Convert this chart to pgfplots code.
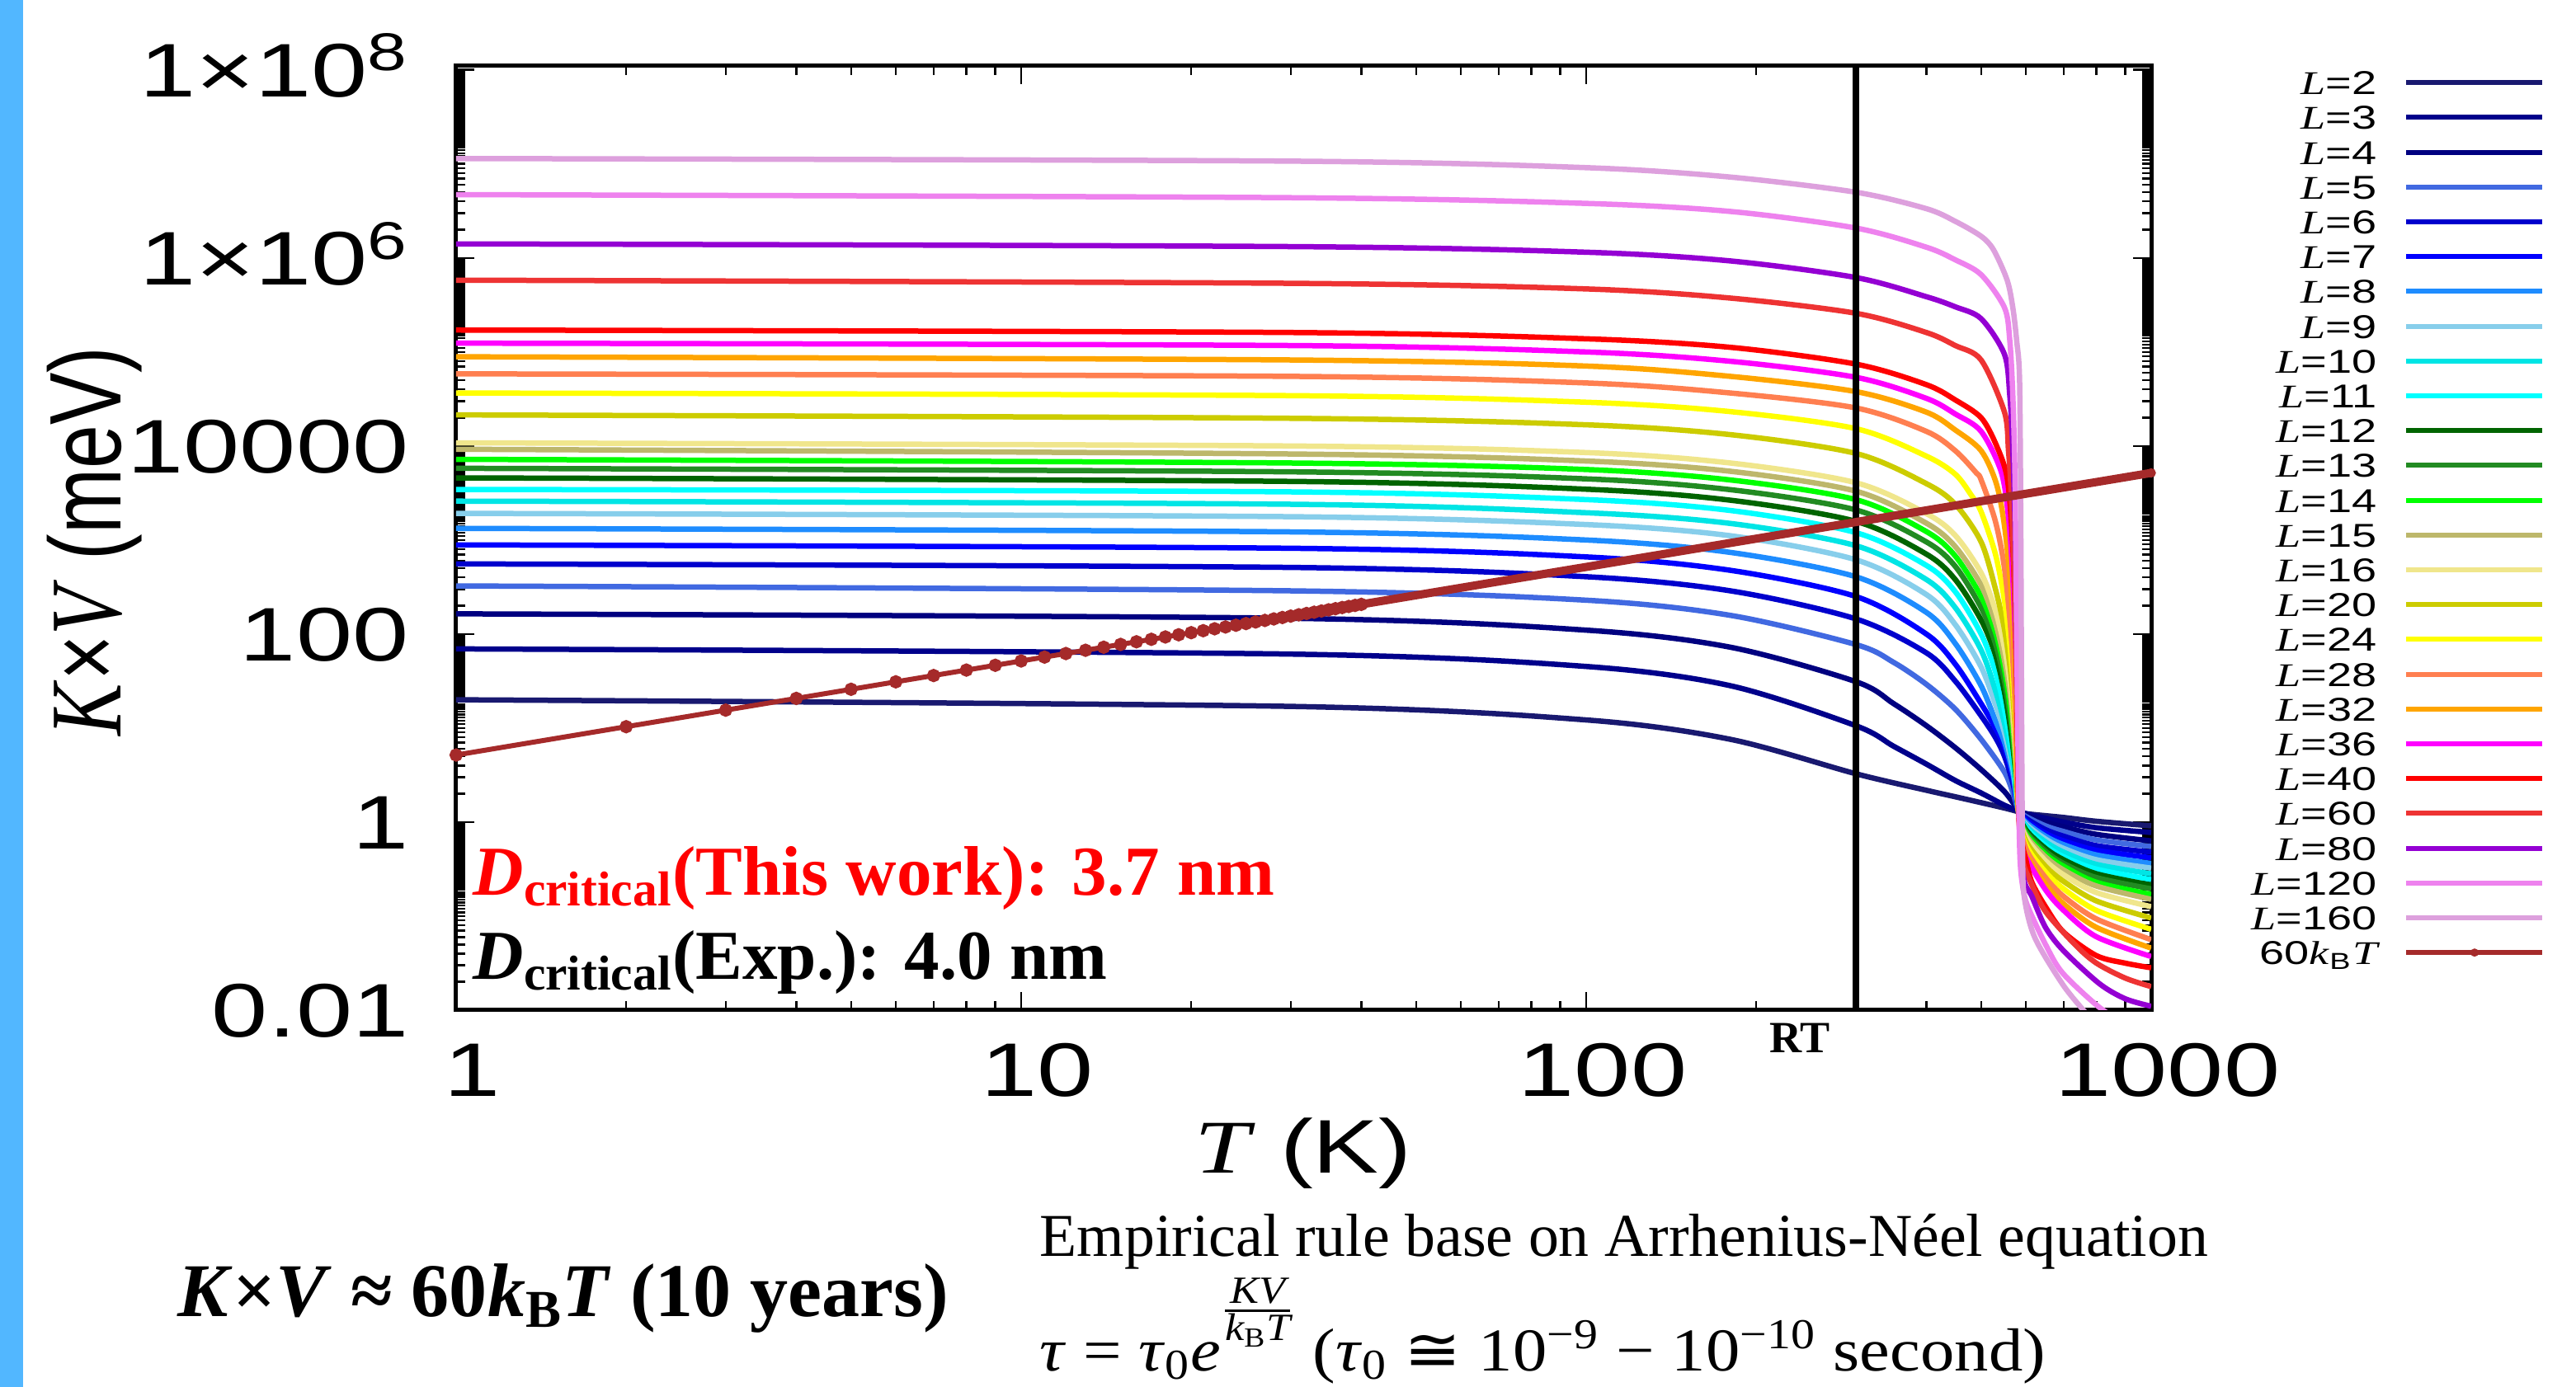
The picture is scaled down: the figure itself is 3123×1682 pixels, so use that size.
\documentclass[border=0pt]{standalone}
\usepackage{fontspec}
\setmainfont{Liberation Serif}
\setsansfont{Liberation Sans}
\newfontfamily\symfont{DejaVu Sans}
\usepackage{amsmath}
\usepackage{graphicx}
\usepackage{pgfplots}
\pgfplotsset{compat=1.18}

\definecolor{barblue}{RGB}{82,183,255}
\definecolor{c2}{HTML}{191970}
\definecolor{c3}{HTML}{00008B}
\definecolor{c4}{HTML}{000080}
\definecolor{c5}{HTML}{4169E1}
\definecolor{c6}{HTML}{0000CD}
\definecolor{c7}{HTML}{0000FF}
\definecolor{c8}{HTML}{1E8CFF}
\definecolor{c9}{HTML}{87CEEB}
\definecolor{c10}{HTML}{00E5E5}
\definecolor{c11}{HTML}{00FFFF}
\definecolor{c12}{HTML}{006400}
\definecolor{c13}{HTML}{228B22}
\definecolor{c14}{HTML}{00FF00}
\definecolor{c15}{HTML}{BDB76B}
\definecolor{c16}{HTML}{F0E68C}
\definecolor{c20}{HTML}{CCCC00}
\definecolor{c24}{HTML}{FFFF00}
\definecolor{c28}{HTML}{FF7F50}
\definecolor{c32}{HTML}{FFA500}
\definecolor{c36}{HTML}{FF00FF}
\definecolor{c40}{HTML}{FF0000}
\definecolor{c60}{HTML}{EE3333}
\definecolor{c80}{HTML}{9400D3}
\definecolor{c120}{HTML}{EE82EE}
\definecolor{c160}{HTML}{DDA0DD}
\definecolor{kbt}{HTML}{A52A2A}

% gnuplot text is stretched sideways in the original
\newcommand{\TL}[1]{\scalebox{1.33}[1]{\sffamily\fontsize{26.2}{28}\selectfont #1}}
\newcommand{\LG}[1]{\scalebox{1.35}[1]{\fontsize{11.4}{12}\selectfont #1}}
\tikzset{cv/.style={line width=0.65mm, line join=round, smooth, tension=0.5}}

% minor y ticks: n*10^k, n=2..99, every second decade
\def\yminor{}
\foreach \e in {-2,0,2,4,6}{\foreach \n in {2,...,99}{\xdef\yminor{\yminor\n e\e,}}}

\begin{document}
\begin{tikzpicture}[x=0.1mm, y=-0.1mm]
\fill[white] (0,0) rectangle (3123,1682);
\path[use as bounding box] (0,0) rectangle (3123,1682);
\fill[barblue] (0,0) rectangle (28,1682);

\begin{axis}[
  at={(55.3mm,-122.5mm)}, anchor=south west,
  scale only axis, width=205.5mm, height=114.5mm,
  xmode=log, ymode=log,
  xmin=1, xmax=1000, ymin=0.01, ymax=1.1e8,
  axis line style={line width=0.5mm},
  tick align=inside, tick pos=both,
  major tick length=2.2mm, minor tick length=1.1mm,
  every tick/.style={black, line width=0.25mm},
  xtick={1,10,100,1000},
  xticklabels={\TL{1},\TL{10},\TL{100},\TL{1000}},
  minor xtick={2,3,4,5,6,7,8,9,20,30,40,50,60,70,80,90,200,300,400,500,600,700,800,900},
  ytick={0.01,1,100,10000,1e6,1e8},
  yticklabels={\TL{0.01},\TL{1},\TL{100},\TL{10000},\TL{1×10\textsuperscript{6}},\TL{1×10\textsuperscript{8}}},
  minor ytick/.expanded={\yminor 1e8},
  xticklabel style={anchor=base, inner sep=0pt, yshift=-10.5mm, xshift=2mm},
  yticklabel style={anchor=base east, inner sep=0pt, xshift=-5.7mm, yshift=-3.3mm},
]
% L=2
\addplot[cv, c2] coordinates {(1,20.0)(30,17.0)(100,12.2)(180,7.59)(300,3.27)(400,2.18)(450,1.86)(500,1.61)(550,1.41)(582,1.29)(600,1.23)(650,1.17)(700,1.12)(800,1.02)(1000,0.912)};
% L=3
\addplot[cv, c3] coordinates {(1,69.5)(30,61.2)(100,45.2)(180,28.2)(300,10.6)(350,6.41)(400,4.14)(450,2.77)(500,2.04)(550,1.51)(582,1.32)(600,1.23)(650,1.10)(700,1.00)(800,0.871)(1000,0.776)};
% L=4
\addplot[cv, c4] coordinates {(1,164)(30,147)(100,110)(180,72.4)(300,31.2)(350,18.2)(400,10.6)(450,6.19)(500,3.62)(550,2.11)(582,1.35)(600,1.20)(650,1.00)(700,0.891)(800,0.741)(1000,0.631)};
% L=5
\addplot[cv, c5] coordinates {(1,325)(30,288)(100,229)(180,158)(300,77.4)(350,50.0)(400,29.2)(450,15.9)(500,7.59)(550,3.40)(570,2.00)(582,1.35)(600,1.15)(650,0.912)(700,0.794)(800,0.646)(1000,0.550)};
% L=6
\addplot[cv, c6] coordinates {(1,557)(30,511)(100,407)(180,288)(300,145)(400,63.1)(450,31.6)(500,13.5)(530,7.94)(550,5.01)(570,2.51)(582,1.35)(600,1.10)(650,0.832)(700,0.708)(800,0.562)(1000,0.479)};
% L=7
\addplot[cv, c7] coordinates {(1,887)(30,817)(100,661)(180,476)(300,251)(400,100)(450,47.9)(500,18.2)(530,10.0)(550,6.31)(570,2.82)(582,1.35)(600,1.05)(650,0.759)(700,0.631)(800,0.501)(1000,0.417)};
% L=8
\addplot[cv, c8] coordinates {(1,1330)(30,1220)(100,1000)(180,738)(300,407)(400,170)(450,79.4)(500,28.2)(530,12.0)(550,7.08)(570,3.16)(582,1.35)(600,1.00)(650,0.708)(700,0.575)(800,0.447)(1000,0.363)};
% L=9
\addplot[cv, c9] coordinates {(1,1920)(30,1770)(100,1460)(180,1110)(300,617)(400,263)(450,126)(500,44.7)(530,17.8)(550,8.91)(570,3.55)(582,1.35)(600,0.955)(650,0.661)(700,0.525)(800,0.398)(1000,0.324)};
% L=10
\addplot[cv, c10] coordinates {(1,2590)(30,2400)(100,1950)(180,1500)(300,871)(400,380)(450,191)(500,67.6)(530,25.1)(550,11.2)(570,3.98)(582,1.35)(600,0.912)(650,0.617)(700,0.479)(800,0.355)(1000,0.282)};
% L=11
\addplot[cv, c11] coordinates {(1,3450)(30,3250)(100,2690)(180,2060)(300,1200)(400,537)(450,282)(500,100)(530,39.8)(550,15.8)(570,4.79)(582,1.35)(600,0.871)(650,0.562)(700,0.427)(800,0.316)(1000,0.245)};
% L=12
\addplot[cv, c12] coordinates {(1,4580)(30,4200)(100,3470)(180,2650)(300,1580)(400,708)(450,380)(500,141)(530,60.3)(550,24.0)(565,8.91)(575,3.55)(582,1.35)(600,0.832)(650,0.525)(700,0.398)(800,0.282)(1000,0.214)};
% L=13
\addplot[cv, c13] coordinates {(1,5790)(30,5310)(100,4470)(180,3430)(300,2090)(400,955)(450,525)(500,191)(530,79.4)(550,31.6)(565,11.2)(575,3.98)(582,1.35)(600,0.794)(650,0.490)(700,0.363)(800,0.257)(1000,0.195)};
% L=14
\addplot[cv, c14] coordinates {(1,7210)(30,6590)(100,5620)(180,4350)(300,2690)(400,1230)(450,676)(500,251)(530,105)(550,41.7)(565,14.1)(575,4.47)(582,1.35)(600,0.759)(650,0.457)(700,0.339)(800,0.229)(1000,0.170)};
% L=15
\addplot[cv, c15] coordinates {(1,9230)(30,8220)(100,6920)(180,5380)(300,3310)(400,1510)(450,851)(500,331)(530,132)(550,52.5)(565,19.1)(575,5.25)(582,1.35)(600,0.724)(650,0.427)(700,0.309)(800,0.209)(1000,0.151)};
% L=16
\addplot[cv, c16] coordinates {(1,10800)(30,10000)(100,8510)(180,6590)(300,4070)(400,1910)(450,1120)(500,447)(530,178)(550,70.8)(565,25.1)(575,6.31)(582,1.35)(600,0.692)(650,0.389)(700,0.275)(800,0.178)(1000,0.126)};
% L=20
\addplot[cv, c20] coordinates {(1,21400)(30,19700)(100,16800)(180,13200)(300,8340)(400,3980)(450,2400)(500,955)(530,302)(550,112)(565,35.5)(575,8.91)(582,1.35)(600,0.631)(650,0.339)(700,0.234)(800,0.145)(1000,0.0955)};
% L=24
\addplot[cv, c24] coordinates {(1,36600)(30,34300)(100,29200)(180,23200)(300,15300)(400,7800)(450,5010)(480,3020)(500,2000)(530,708)(550,224)(565,56.2)(575,11.2)(582,1.35)(600,0.575)(650,0.295)(700,0.195)(800,0.115)(1000,0.0724)};
% L=28
\addplot[cv, c28] coordinates {(1,58500)(30,55000)(100,46800)(180,36600)(300,25400)(400,14300)(450,8910)(490,5200)(500,4370)(530,1580)(550,501)(565,100)(575,15.8)(582,1.35)(600,0.525)(650,0.257)(700,0.162)(800,0.0933)(1000,0.0562)};
% L=32
\addplot[cv, c32] coordinates {(1,88900)(30,82200)(100,70800)(180,55000)(300,37900)(400,22900)(450,14800)(500,8910)(532,3980)(550,1410)(565,282)(575,35.5)(582,1.35)(590,0.708)(600,0.457)(650,0.219)(700,0.135)(800,0.0759)(1000,0.0457)};
% L=36
\addplot[cv, c36] coordinates {(1,124000)(30,117000)(100,100000)(180,79600)(300,53800)(400,32100)(450,21900)(500,14300)(543,5250)(560,1580)(570,316)(578,31.6)(583,1.35)(590,0.661)(600,0.427)(650,0.191)(700,0.115)(800,0.0603)(1000,0.0372)};
% L=40
\addplot[cv, c40] coordinates {(1,171000)(30,161000)(100,138000)(180,112000)(300,74300)(400,44900)(450,30900)(500,20000)(532,10200)(556,4570)(568,1000)(576,100)(583,1.35)(590,0.631)(600,0.398)(615,0.229)(650,0.126)(700,0.0676)(800,0.0380)(900,0.0316)(1000,0.0282)};
% L=60
\addplot[cv, c60] coordinates {(1,580000)(30,537000)(100,468000)(180,374000)(300,258000)(400,161000)(450,117000)(500,82200)(550,22900)(559,8910)(565,3240)(573,316)(580,10.0)(584,1.00)(592,0.398)(610,0.240)(650,0.112)(735,0.0490)(800,0.0316)(900,0.0219)(1000,0.0178)};
% L=80
\addplot[cv, c80] coordinates {(1,1410000)(30,1320000)(100,1150000)(180,929000)(300,619000)(400,387000)(450,302000)(500,226000)(550,94200)(562,34300)(569,8910)(576,631)(581,15.8)(585,1.00)(595,0.251)(615,0.162)(650,0.0759)(700,0.0427)(810,0.0191)(900,0.0132)(1000,0.0110)};
% L=120
\addplot[cv, c120] coordinates {(1,4710000)(30,4370000)(100,3800000)(180,3120000)(300,2080000)(400,1300000)(450,955000)(500,664000)(550,296000)(562,132000)(569,34300)(574,4570)(578,100)(582,3.16)(586,0.398)(595,0.178)(608,0.117)(650,0.0501)(696,0.0251)(805,0.0110)(900,0.00708)};
% L=160
\addplot[cv, c160] coordinates {(1,11400000)(30,10700000)(100,9120000)(180,7240000)(300,5000000)(400,3340000)(450,2450000)(500,1700000)(526,1220000)(556,580000)(569,296000)(578,132000)(585,47900)(588,1000)(590,10.0)(592,0.501)(596,0.162)(622,0.0596)(696,0.0191)(761,0.00977)(800,0.00708)};
% room temperature
\addplot[black, line width=0.8mm] coordinates {(300,0.001)(300,1e9)};
% 60 k_B T
\addplot[kbt, line width=0.6mm, mark=*, mark size=0.5mm, mark options={solid}] coordinates {
 (1,5.17)(2,10.34)(3,15.51)(4,20.68)(5,25.85)(6,31.02)(7,36.19)(8,41.36)(9,46.53)(10,51.7)
 (11,56.87)(12,62.04)(13,67.21)(14,72.38)(15,77.55)(16,82.72)(17,87.89)(18,93.06)(19,98.23)(20,103.4)
 (21,108.57)(22,113.74)(23,118.91)(24,124.08)(25,129.25)(26,134.42)(27,139.59)(28,144.76)(29,149.93)(30,155.1)
 (31,160.27)(32,165.44)(33,170.61)(34,175.78)(35,180.95)(36,186.12)(37,191.29)(38,196.46)(39,201.63)(40,206.8)};
\addplot[kbt, line width=1.0mm, line cap=round] coordinates {(40,206.8)(1000,5170)};
\addplot[kbt, only marks, mark=*, mark size=0.5mm] coordinates {(1000,5170)};
\end{axis}

% axis titles
\node[rotate=90, anchor=base, inner sep=0pt] at (146,657)
  {\scalebox{1}[1.3]{\fontsize{27}{28}\selectfont\textit{K}\textsf{×}\textit{V} \textsf{(meV)}}};
\node[anchor=base, inner sep=0pt] at (1580,1422)
  {\scalebox{1.3}[1]{\fontsize{26.2}{28}\selectfont\textit{T} \textsf{(K)}}};

% legend
\foreach \c/\lab [count=\k from 0] in {c2/2,c3/3,c4/4,c5/5,c6/6,c7/7,c8/8,c9/9,c10/10,c11/11,c12/12,c13/13,c14/14,c15/15,c16/16,c20/20,c24/24,c28/28,c32/32,c36/36,c40/40,c60/60,c80/80,c120/120,c160/160}{
  \draw[\c, line width=0.6mm] (2917,{100.2+42.2*\k}) -- (3082,{100.2+42.2*\k});
  \node[anchor=base east, inner sep=0pt] at (2882,{114.7+42.2*\k}) {\LG{\textit{L}\textsf{=\lab}}};
}
\draw[kbt, line width=0.6mm] (2917,1155.2) -- (3082,1155.2);
\fill[kbt] (3000,1155.2) circle (0.5mm);
\node[anchor=base east, inner sep=0pt] at (2886,1169.7)
  {\LG{\textsf{60}\textit{k}\textsubscript{\textsf{B}}\textit{T}}};

% annotations
\node[anchor=base, inner sep=0pt] at (2182,1276) {\fontsize{15.4}{16}\selectfont\bfseries RT};
\node[anchor=base west, inner sep=0pt, text=red] at (573,1085)
  {\fontsize{24.2}{26}\selectfont\bfseries\textit{D}\textsubscript{critical}(This work): 3.7 nm};
\node[anchor=base west, inner sep=0pt] at (573,1187)
  {\fontsize{24.2}{26}\selectfont\bfseries\textit{D}\textsubscript{critical}(Exp.): 4.0 nm};

\node[anchor=base west, inner sep=0pt] at (215,1596)
  {\fontsize{26.2}{28}\selectfont\bfseries\textit{K}×\textit{V} ≈ 60\textit{k}\textsubscript{B}\textit{T} (10 years)};
\node[anchor=base west, inner sep=0pt] at (1260,1523)
  {\fontsize{21}{23}\selectfont Empirical rule base on Arrhenius-Néel equation};
\node[anchor=base west, inner sep=0pt] at (1260,1662)
  {\scalebox{1.12}[1]{\fontsize{21}{23}\selectfont \textit{τ} = \textit{τ}\textsubscript{0}\textit{e}$^{\raisebox{3.1mm}{\fontsize{19}{19}\selectfont$\textstyle\frac{\textit{KV}}{\textit{k}_{\text{B}}\textit{T}}$}}$ (\textit{τ}\textsubscript{0} {\symfont ≅} 10\textsuperscript{−9} − 10\textsuperscript{−10} second)}};
\end{tikzpicture}
\end{document}
